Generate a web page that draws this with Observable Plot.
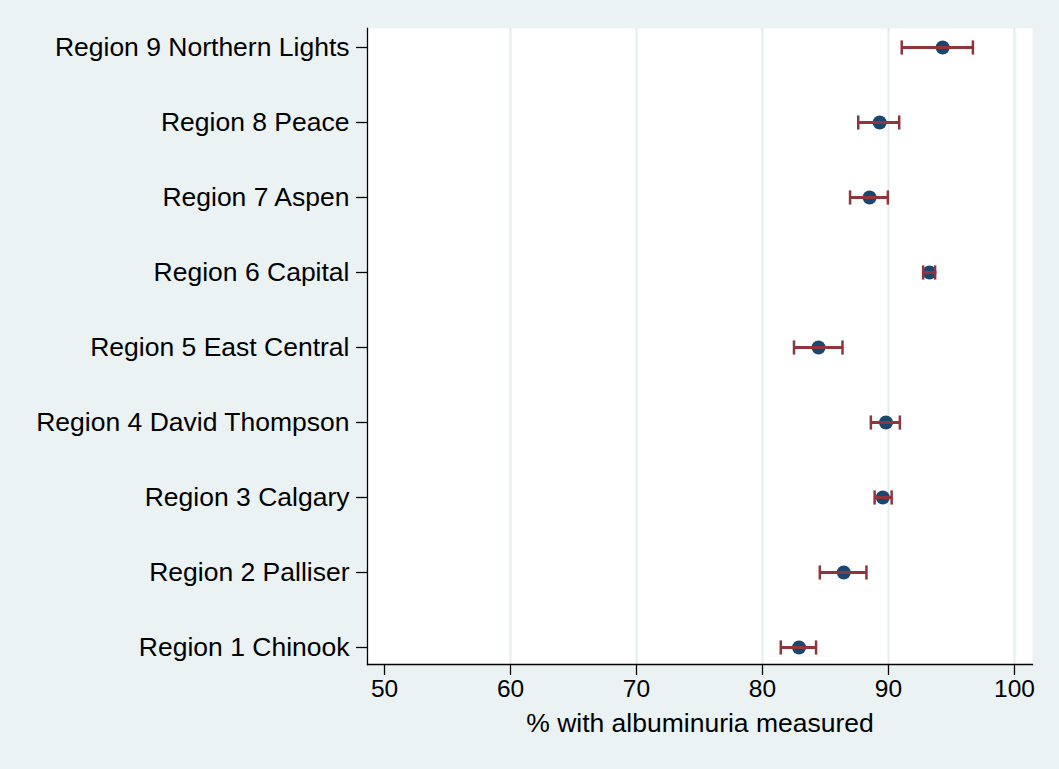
<!DOCTYPE html>
<html>
<head>
<meta charset="utf-8">
<script src="https://cdn.jsdelivr.net/npm/d3@7"></script>
<script src="https://cdn.jsdelivr.net/npm/@observablehq/plot@0.6"></script>
<style>
  html, body { margin: 0; padding: 0; background: #eaf2f3; }
  #chart svg { display: block; }
</style>
</head>
<body>
<div id="chart"></div>
<script>
const regions = [
  "Region 1 Chinook",
  "Region 2 Palliser",
  "Region 3 Calgary",
  "Region 4 David Thompson",
  "Region 5 East Central",
  "Region 6 Capital",
  "Region 7 Aspen",
  "Region 8 Peace",
  "Region 9 Northern Lights"
];
const estimate = [82.9, 86.45, 89.55, 89.8, 84.45, 93.25, 88.5, 89.3, 94.3];
const lower    = [81.45, 84.55, 88.9, 88.6, 82.5, 92.75, 86.95, 87.6, 91.05];
const upper    = [84.25, 88.25, 90.25, 90.9, 86.35, 93.7, 89.95, 90.85, 96.7];
const xTicks = [50, 60, 70, 80, 90, 100];
const gridTicks = [60, 70, 80, 90, 100];
const xLabel = "% with albuminuria measured";

const data = regions.map((r, i) => ({region: r, est: estimate[i], lo: lower[i], hi: upper[i]}));

const capSymbol = {
  draw(context, size) {
    const h = Math.sqrt(size) / 2;
    context.moveTo(0, -h);
    context.lineTo(0, h);
  }
};

const font = "'Liberation Sans', Arial, Helvetica, sans-serif";

const chart = Plot.plot({
  width: 1059,
  height: 769,
  marginLeft: 367,
  marginRight: 27,
  marginTop: 28,
  marginBottom: 105,
  style: {background: "#eaf2f3", fontFamily: font, color: "black"},
  x: {domain: [48.65, 101.43]},
  y: {type: "point", domain: regions.slice().reverse(), padding: 0, insetTop: 17, insetBottom: 16},
  marks: [
    Plot.frame({fill: "white", stroke: null}),
    Plot.gridX(gridTicks, {stroke: "#e3ecef", strokeOpacity: 1, strokeWidth: 2}),
    Plot.frame({anchor: "left", stroke: "black", strokeWidth: 1.3}),
    Plot.frame({anchor: "bottom", stroke: "black", strokeWidth: 1.3}),
    Plot.axisX(xTicks, {tickSize: 11, tickPadding: 4, fontSize: 24.5, label: null, stroke: "black", strokeWidth: 1.3}),
    Plot.text([xLabel], {frameAnchor: "bottom", dy: 59, fontSize: 26.5, lineAnchor: "middle", fill: "black"}),
    Plot.axisY({tickSize: 11, tickPadding: 7, fontSize: 26.5, label: null, stroke: "black", strokeWidth: 1.3}),
    Plot.dot(data, {x: "est", y: "region", r: 7, fill: "#1a476f", stroke: "none"}),
    Plot.ruleY(data, {y: "region", x1: "lo", x2: "hi", stroke: "#90353b", strokeWidth: 3}),
    Plot.dot(data, {x: "lo", y: "region", symbol: capSymbol, r: 8, stroke: "#90353b", strokeWidth: 2.5, fill: "none"}),
    Plot.dot(data, {x: "hi", y: "region", symbol: capSymbol, r: 8, stroke: "#90353b", strokeWidth: 2.5, fill: "none"})
  ]
});
document.getElementById("chart").appendChild(chart);
</script>
</body>
</html>
